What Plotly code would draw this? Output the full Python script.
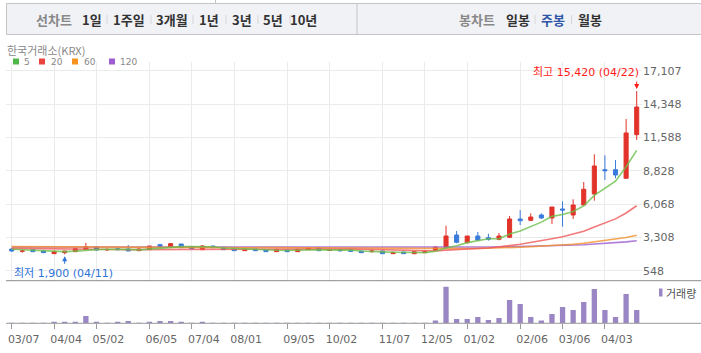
import plotly.graph_objects as go

W, H = 701, 353


def px(x):
    return x / W


def py(y):
    return 1 - y / H


# ---------------- data ----------------
weeks = list(range(60))
opens = [2345, 2165, 2290, 2180, 1958, 2041, 2124, 2290, 2510, 2276,
         2372, 2345, 2207, 2290, 2704, 2538, 2759, 2538, 2290, 2593,
         2483, 2345, 2207, 2345, 2262, 2124, 2262, 2124, 2290, 2428,
         2234, 2262, 2262, 2180, 2124, 2180, 1958, 2096, 1958, 2041,
         2250, 2480, 3504, 2866, 3421, 3280, 3148, 3314, 4829, 4721,
         5160, 4912, 5657, 5160, 5988, 6899, 8911, 8911, 8199, 11809]
highs = [2400, 2262, 2300, 2262, 2234, 2180, 2483, 2842, 2510, 2428,
         2400, 2676, 2400, 2593, 2759, 2842, 2759, 2538, 2676, 2593,
         2483, 2345, 2345, 2345, 2262, 2372, 2262, 2317, 2428, 2428,
         2345, 2317, 2372, 2180, 2317, 2180, 2124, 2096, 2180, 2262,
         2560, 4270, 3835, 3421, 3752, 3612, 3670, 5077, 5574, 5301,
         5301, 5822, 6294, 6460, 7892, 10186, 10103, 9714, 13109, 15420]
lows = [2096, 2041, 2110, 2041, 1958, 1900, 2124, 2290, 2207, 2180,
        2262, 2180, 2207, 2290, 2538, 2510, 2455, 2372, 2290, 2455,
        2290, 2207, 2207, 2207, 2124, 2124, 2124, 2124, 2290, 2207,
        2207, 2124, 2152, 2041, 2041, 1958, 1931, 1958, 1910, 2041,
        2180, 2400, 2817, 2817, 3032, 3032, 3065, 3256, 4332, 4663,
        4829, 4415, 4191, 4829, 5988, 6344, 8058, 8199, 8199, 11370]
closes = [2180, 2180, 2124, 2041, 2124, 2180, 2372, 2538, 2262, 2300,
          2290, 2180, 2345, 2593, 2538, 2786, 2455, 2372, 2593, 2455,
          2290, 2207, 2345, 2207, 2124, 2290, 2124, 2317, 2428, 2207,
          2262, 2207, 2152, 2041, 2180, 1958, 2069, 1958, 2124, 2124,
          2500, 3420, 2900, 3421, 3090, 3148, 3421, 4829, 4688, 4994,
          4912, 5822, 5574, 5988, 7288, 9217, 8828, 8472, 11950, 14102]

ma5 = [2330, 2280, 2230, 2170, 2130, 2130, 2168, 2251, 2295, 2330,
       2352, 2314, 2275, 2342, 2389, 2488, 2543, 2549, 2549, 2532,
       2433, 2383, 2378, 2301, 2235, 2235, 2218, 2212, 2257, 2273,
       2268, 2284, 2251, 2174, 2168, 2108, 2080, 2041, 2058, 2047,
       2155, 2425, 2614, 2873, 3066, 3196, 3196, 3582, 3835, 4216,
       4569, 5049, 5198, 5458, 5917, 6778, 7379, 7959, 9151, 10514]
ma20 = [2400, 2385, 2370, 2350, 2335, 2320, 2315, 2318, 2310, 2305,
        2300, 2295, 2298, 2305, 2312, 2325, 2330, 2332, 2340, 2345,
        2351, 2352, 2363, 2372, 2372, 2377, 2365, 2354, 2362, 2357,
        2356, 2357, 2348, 2320, 2302, 2261, 2241, 2221, 2197, 2181,
        2191, 2252, 2280, 2340, 2389, 2432, 2496, 2622, 2735, 2874,
        3007, 3188, 3359, 3556, 3811, 4174, 4512, 4838, 5329, 5928]
ma60 = [2540, 2536, 2531, 2526, 2520, 2515, 2510, 2506, 2501, 2496,
        2490, 2485, 2480, 2476, 2472, 2468, 2463, 2458, 2453, 2448,
        2443, 2437, 2431, 2425, 2420, 2414, 2408, 2402, 2397, 2391,
        2386, 2380, 2374, 2369, 2364, 2359, 2354, 2350, 2346, 2343,
        2343, 2358, 2365, 2380, 2390, 2401, 2416, 2455, 2491, 2533,
        2573, 2628, 2679, 2737, 2817, 2929, 3035, 3134, 3292, 3485]
ma120 = [2505, 2504, 2503, 2502, 2501, 2500, 2500, 2499, 2498, 2497,
         2496, 2495, 2494, 2494, 2493, 2492, 2491, 2490, 2490, 2489,
         2488, 2487, 2487, 2486, 2485, 2484, 2484, 2483, 2482, 2482,
         2481, 2480, 2480, 2479, 2479, 2478, 2478, 2477, 2477, 2477,
         2476, 2483, 2485, 2492, 2496, 2501, 2508, 2527, 2544, 2564,
         2583, 2610, 2635, 2663, 2702, 2757, 2809, 2858, 2936, 3032]

volumes = [20000, 25000, 18000, 30000, 130000, 130000, 130000, 730000, 130000, 40000,
           130000, 230000, 50000, 130000, 230000, 230000, 130000, 60000, 130000, 50000,
           40000, 30000, 35000, 30000, 25000, 30000, 20000, 35000, 40000, 30000,
           25000, 20000, 25000, 20000, 25000, 30000, 20000, 25000, 30000, 60000,
           270000, 3670000, 430000, 430000, 630000, 330000, 530000, 2330000, 1930000, 630000,
           270000, 930000, 1630000, 1330000, 2130000, 3430000, 1330000, 630000, 2930000, 1330000]

tick_idx = [0, 4, 8, 13, 17, 21, 26, 30, 35, 39, 43, 48, 52, 56]
tick_labels = ["03/07", "04/04", "05/02", "06/05", "07/04", "08/01", "09/05",
               "10/02", "11/07", "12/05", "01/02", "02/06", "03/06", "04/03"]
price_ticks = [548, 3308, 6068, 8828, 11588, 14348, 17107]

high_date = "04/22"
low_date = "04/11"

ma_names = ["5", "20", "60", "120"]
period_buttons = ["1일", "1주일", "3개월", "1년", "3년", "5년", "10년"]
candle_buttons = ["일봉", "주봉", "월봉"]

# ---------------- styles ----------------
UP = "#e2332a"
DOWN = "#3a7bdc"
VOL = "#9a86c4"
MA_COLORS = ["#6cc04a", "#f05a5a", "#f5902a", "#9b5fcf"]
LEG_COLORS = ["#4fb64a", "#ea4340", "#f7931e", "#9c5ccf"]
FONT = "DejaVu Sans, Noto Sans CJK KR"
KFONT = "Noto Sans CJK KR"

fig = go.Figure()

for vals, col in zip([ma120, ma60, ma20, ma5], MA_COLORS[::-1]):
    fig.add_trace(go.Scatter(x=weeks, y=vals, mode="lines",
                             line=dict(color=col, width=1.6), opacity=0.8,
                             hoverinfo="skip", xaxis="x", yaxis="y"))

fig.add_trace(go.Candlestick(
    x=weeks, open=opens, high=highs, low=lows, close=closes,
    increasing=dict(line=dict(color=UP, width=1), fillcolor=UP),
    decreasing=dict(line=dict(color=DOWN, width=1), fillcolor=DOWN),
    whiskerwidth=0, xaxis="x", yaxis="y", hoverinfo="skip"))

fig.add_trace(go.Bar(x=weeks, y=volumes, width=0.5,
                     marker=dict(color=VOL, line=dict(width=0)),
                     xaxis="x2", yaxis="y2", hoverinfo="skip"))

xr = [-0.54, 59.5]
vmax = max(volumes)

fig.update_layout(
    width=W, height=H, margin=dict(l=0, r=0, t=0, b=0),
    paper_bgcolor="white", plot_bgcolor="white", showlegend=False,
    boxgap=0.45,
    font=dict(family=FONT, size=11, color="#666"),
    xaxis=dict(domain=[px(6), px(642)], range=xr, tickvals=tick_idx,
               showticklabels=False, showgrid=True, gridcolor="#ebebeb",
               zeroline=False, showline=False, ticks="",
               rangeslider=dict(visible=False), anchor="y"),
    yaxis=dict(domain=[py(280.7), py(62)], range=[-280, 17827], side="right",
               tickvals=price_ticks, tickformat=",", showgrid=True,
               gridcolor="#ebebeb", zeroline=False, showline=False, ticks="",
               tickfont=dict(family="DejaVu Sans", size=11, color="#666"),
               anchor="x"),
    xaxis2=dict(domain=[px(6), px(642)], range=xr, matches="x",
                tickvals=tick_idx, ticktext=tick_labels, showgrid=False,
                zeroline=False, showline=False, ticks="outside", ticklen=5,
                tickcolor="#999", ticklabelshift=12,
                tickfont=dict(family="DejaVu Sans", size=11, color="#666"),
                anchor="y2"),
    yaxis2=dict(domain=[py(323.3), py(280.7)], range=[0, vmax / 0.86],
                visible=False, anchor="x2"),
)

shapes = []
# header band
shapes.append(dict(type="rect", xref="paper", yref="paper", x0=px(6.5), x1=px(705),
                   y0=py(34.5), y1=py(3.5), fillcolor="#f1f2f6",
                   line=dict(color="#c4c4c4", width=1), layer="below"))
shapes.append(dict(type="line", xref="paper", yref="paper", x0=px(357), x1=px(357),
                   y0=py(34.5), y1=py(3.5), line=dict(color="#c4c4c4", width=1)))
shapes.append(dict(type="line", xref="paper", yref="paper", x0=px(215.5), x1=px(215.5),
                   y0=py(3.5), y1=py(0), line=dict(color="#c4c4c4", width=1)))
# separators in header
for sx in [107, 151, 193, 226, 258, 290, 535, 571.5]:
    shapes.append(dict(type="line", xref="paper", yref="paper", x0=px(sx), x1=px(sx),
                       y0=py(24), y1=py(15), line=dict(color="#d6d6d6", width=1)))
# full-width panel lines
shapes.append(dict(type="line", xref="paper", yref="paper", x0=px(6), x1=1,
                   y0=py(280.7), y1=py(280.7), line=dict(color="#8c8c8c", width=1)))
shapes.append(dict(type="line", xref="paper", yref="paper", x0=px(6), x1=1,
                   y0=py(323.3), y1=py(323.3), line=dict(color="#999", width=1)))
# MA legend squares
for sx, col in zip([13, 39, 72, 109], LEG_COLORS):
    shapes.append(dict(type="rect", xref="paper", yref="paper", x0=px(sx), x1=px(sx + 6),
                       y0=py(64.5), y1=py(58.5), fillcolor=col, line=dict(width=0)))
# volume legend mark
shapes.append(dict(type="rect", xref="paper", yref="paper", x0=px(659), x1=px(662.5),
                   y0=py(296.5), y1=py(288.5), fillcolor=VOL, line=dict(width=0)))

ann = []
# header texts
ann.append(dict(text="선차트", x=px(54), y=py(19.5), font=dict(family=KFONT, size=13,
                color="#888", weight="bold")))
for t, cx in zip(period_buttons, [91.7, 129, 171.7, 209, 241.7, 273, 303.7]):
    ann.append(dict(text=t, x=px(cx), y=py(19.5),
                    font=dict(family=KFONT, size=13, color="#333", weight="bold")))
ann.append(dict(text="봉차트", x=px(476.7), y=py(19.5), font=dict(family=KFONT, size=13,
                color="#888", weight="bold")))
for t, cx, c in zip(candle_buttons, [518.3, 553, 589.7], ["#333", "#2f56a8", "#333"]):
    ann.append(dict(text=t, x=px(cx), y=py(19.5),
                    font=dict(family=KFONT, size=13, color=c, weight="bold")))
for a in ann:
    a.update(xref="paper", yref="paper", showarrow=False, xanchor="center", yanchor="middle")

ann.append(dict(text="한국거래소(KRX)", xref="paper", yref="paper", x=px(5), y=py(49.8),
                xanchor="left", yanchor="middle", showarrow=False,
                font=dict(family=KFONT, size=11, color="#888")))
for t, sx in zip(ma_names, [21.5, 48.5, 81.5, 117.5]):
    ann.append(dict(text=t, xref="paper", yref="paper", x=px(sx), y=py(62.3),
                    xanchor="left", yanchor="middle", showarrow=False,
                    font=dict(family="DejaVu Sans", size=9, color="#888")))
ann.append(dict(text="거래량", xref="paper", yref="paper", x=px(663.5), y=py(292.5),
                xanchor="left", yanchor="middle", showarrow=False,
                font=dict(family=KFONT, size=11, color="#555")))

# high / low markers
hi_val = max(highs)
hi_idx = highs.index(hi_val)
lo_val = min(lows)
lo_idx = lows.index(lo_val)
ann.append(dict(x=hi_idx, y=hi_val, xref="x", yref="y", text="", showarrow=True,
                ax=0, ay=-11, arrowhead=2, arrowsize=1, arrowwidth=1, standoff=2,
                arrowcolor="#ff1a1a"))
ann.append(dict(x=lo_idx, y=lo_val, xref="x", yref="y", text="", showarrow=True,
                ax=0, ay=11, arrowhead=2, arrowsize=1, arrowwidth=1, standoff=2,
                arrowcolor="#2f72d8"))
ann.append(dict(text=f"최고 {hi_val:,} ({high_date})", xref="paper", yref="paper",
                x=px(640.5), y=py(72.5), xanchor="right", yanchor="middle",
                showarrow=False, font=dict(family=FONT, size=11, color="#ff1a1a")))
ann.append(dict(text=f"최저 {lo_val:,} ({low_date})", xref="paper", yref="paper",
                x=px(11.5), y=py(273.5), xanchor="left", yanchor="middle",
                showarrow=False, font=dict(family=FONT, size=11, color="#2f72d8")))

fig.update_layout(shapes=shapes, annotations=ann)
fig.write_html("out.html")
